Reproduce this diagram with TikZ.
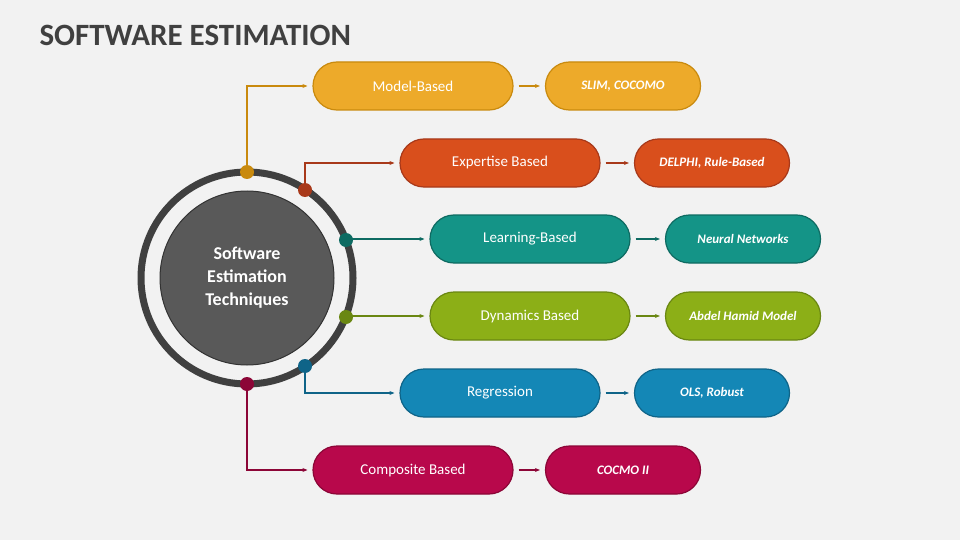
\documentclass[tikz,border=0pt]{standalone}
\usepackage{fontspec}
\setmainfont{Carlito}
\usetikzlibrary{arrows.meta}
\definecolor{bg}{HTML}{F2F2F2}
\definecolor{cA}{HTML}{EDAA2A}\definecolor{dA}{HTML}{C98A0E}
\definecolor{cB}{HTML}{D94F1C}\definecolor{dB}{HTML}{A8391A}
\definecolor{cC}{HTML}{149487}\definecolor{dC}{HTML}{0E6B62}
\definecolor{cD}{HTML}{8CAF17}\definecolor{dD}{HTML}{6A8712}
\definecolor{cE}{HTML}{1487B6}\definecolor{dE}{HTML}{0F6488}
\definecolor{cF}{HTML}{B8084B}\definecolor{dF}{HTML}{8C0637}
\tikzset{
    pill/.style={rounded corners=24pt,minimum height=48pt,text=white,line width=1.2pt,font=\fontsize{15}{18}\selectfont},
    bigpill/.style={pill,minimum width=200pt},
    smallpill/.style={pill,minimum width=155pt,font=\fontsize{13}{16}\selectfont\itshape\bfseries},
    link/.style={line width=1.2pt,-{Stealth[length=5pt,width=4pt]}},
}
\begin{document}
\begin{tikzpicture}[x=1pt,y=-1pt]
\fill[bg] (0,0) rectangle (960,540);
\node[anchor=west,font=\fontsize{31}{36}\selectfont\bfseries,text=black!75] (title) at (36,35) {SOFTWARE ESTIMATION};
% hub
\draw[black!75,line width=7pt] (247,278) circle (106);
\node[circle,fill=black!65,draw=black!80,line width=1pt,minimum size=174pt,text=white,align=center,
      font=\fontsize{18}{23}\selectfont\bfseries] (hub) at (247,278) {Software\\Estimation\\Techniques};
% branches
\foreach \n/\dx/\dy/\bx/\by/\sx/\c/\t/\s in {
    a/247/172/413/86/623/A/Model-Based/{SLIM, COCOMO},
    b/305/190/500/163/712/B/Expertise Based/{DELPHI, Rule-Based},
    c/346/240/530/239/743/C/Learning-Based/Neural Networks,
    d/346/317/530/316/743/D/Dynamics Based/Abdel Hamid Model,
    e/305/366/500/393/712/E/Regression/{OLS, Robust},
    f/247/384/413/470/623/F/Composite Based/COCMO II}{
    \node[bigpill,fill=c\c,draw=d\c] (\n box) at (\bx,\by) {\t};
    \node[smallpill,fill=c\c,draw=d\c] (\n out) at (\sx,\by) {\s};
    \node[circle,fill=d\c,minimum size=14pt,inner sep=0] (\n dot) at (\dx,\dy) {};
    \draw[link,d\c] (\n dot.center) |- ([xshift=-5pt]\n box.west);
    \draw[link,d\c] ([xshift=5pt]\n box.east) -- ([xshift=-5pt]\n out.west);
}
\end{tikzpicture}
\end{document}
